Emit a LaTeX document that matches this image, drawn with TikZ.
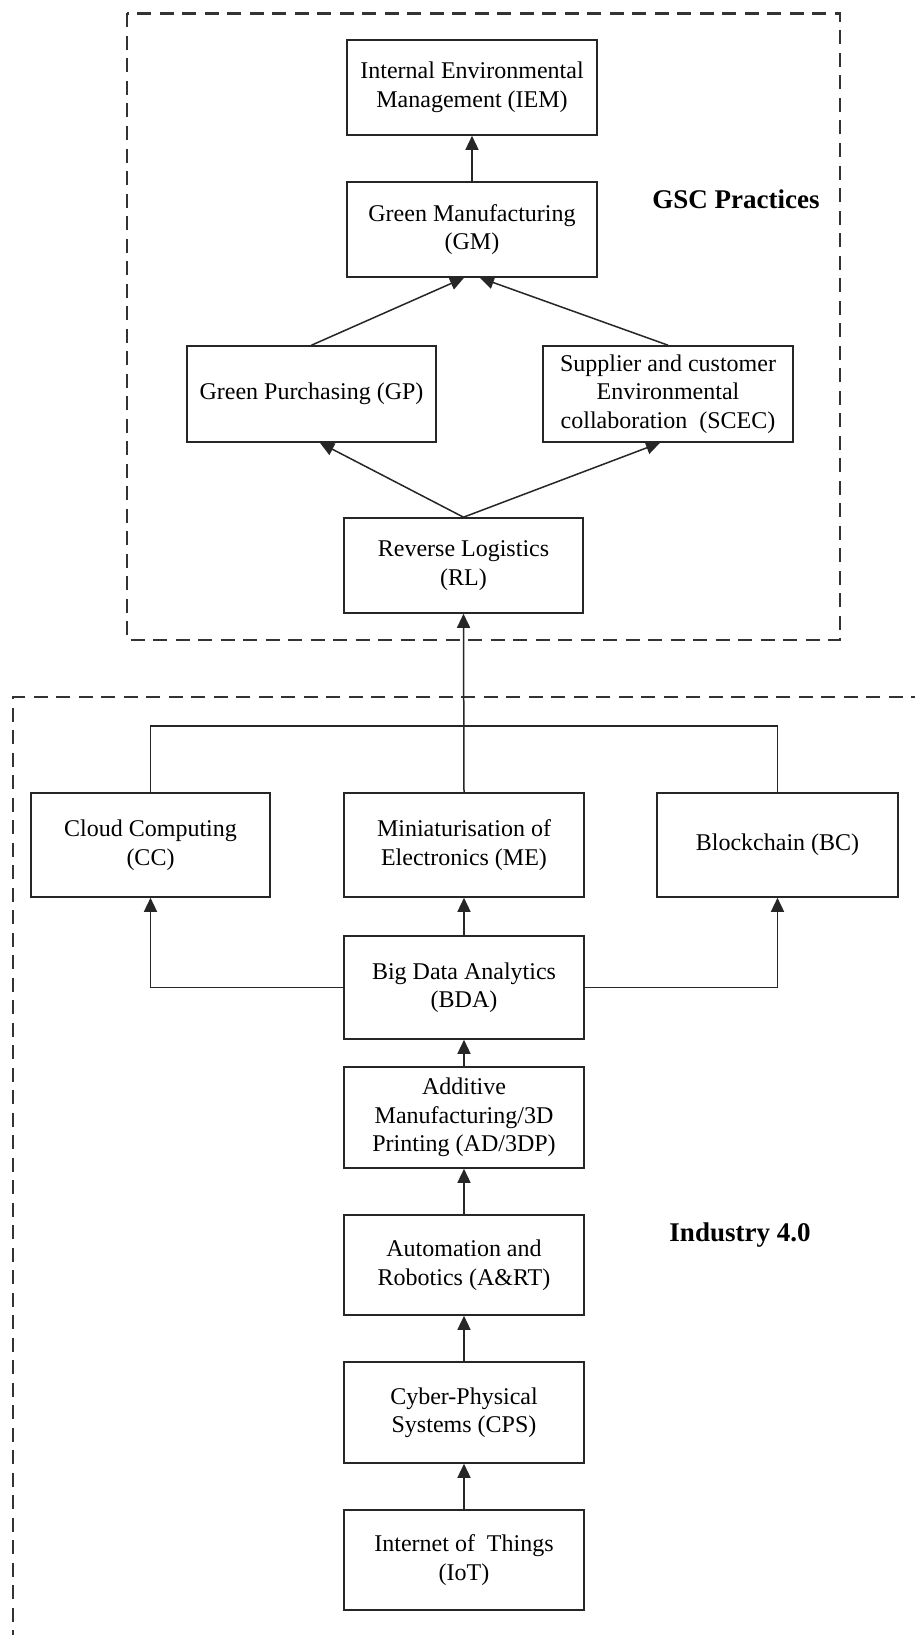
\documentclass[tikz,border=0pt]{standalone}
\usepackage{fontspec}
\setmainfont{Liberation Serif}
\usetikzlibrary{arrows.meta,calc}
\begin{document}
\begin{tikzpicture}[x=1pt,y=-1pt,
  box/.style={draw=black!85, line width=1.6pt, rectangle, inner sep=0pt, align=center,
    font=\fontsize{24}{28.5}\selectfont, text=black},
  link/.style={draw=black!85, line width=1.5pt},
  arr/.style={link, -{Triangle[length=14pt,width=13pt]}},
  frame/.style={draw=black!80, line width=2.8pt, dash pattern=on 14pt off 8.5pt},
  heading/.style={font=\fontsize{27}{30}\selectfont\bfseries, inner sep=0pt}]
\fill[white] (0,0) rectangle (915,1635);
\useasboundingbox (0,0) rectangle (915,1635);

% frames
\draw[frame] (127,13.5) rectangle (840,640);
\draw[frame] (925,697) -- (13,697) -- (13,1645);

% GSC practices
\node[box, minimum width=250pt, minimum height=95pt] (IEM) at (472,87.5) {Internal Environmental\\Management (IEM)};
\node[box, minimum width=250pt, minimum height=95pt] (GM) at (472,229.5) {Green Manufacturing\\(GM)};
\node[box, minimum width=249pt, minimum height=96pt] (GP) at (311.5,394) {Green Purchasing (GP)};
\node[box, minimum width=250pt, minimum height=96pt] (SCEC) at (668,394) {Supplier and customer\\Environmental\\collaboration\ \ (SCEC)};
\node[box, minimum width=239pt, minimum height=95pt] (RL) at (463.5,565.5) {Reverse Logistics\\(RL)};
\node[heading] (GSC) at (736,199) {GSC Practices};

% Industry 4.0
\node[box, minimum width=239pt, minimum height=104pt] (CC) at (150.5,845) {Cloud Computing\\(CC)};
\node[box, minimum width=240pt, minimum height=104pt] (ME) at (464,845) {Miniaturisation of\\Electronics (ME)};
\node[box, minimum width=241pt, minimum height=104pt] (BC) at (777.5,845) {Blockchain (BC)};
\node[box, minimum width=240pt, minimum height=103pt] (BDA) at (464,987.5) {Big Data Analytics\\(BDA)};
\node[box, minimum width=240pt, minimum height=101pt] (AD) at (464,1117.5) {Additive\\Manufacturing/3D\\Printing (AD/3DP)};
\node[box, minimum width=240pt, minimum height=100pt] (ART) at (464,1265) {Automation and\\Robotics (A\&RT)};
\node[box, minimum width=240pt, minimum height=101pt] (CPS) at (464,1412.5) {Cyber-Physical\\Systems (CPS)};
\node[box, minimum width=240pt, minimum height=100pt] (IoT) at (464,1560) {Internet of\ \ Things\\(IoT)};
\node[heading] (I40) at (740,1235) {Industry 4.0};

% connectors (GSC)
\draw[arr] (GM.north) -- (IEM.south);
\draw[arr] (GP.north) -- ($(GM.south)+(-8,0)$);
\draw[arr] (SCEC.north) -- ($(GM.south)+(8,0)$);
\draw[arr] (RL.north) -- ($(GP.south)+(8.5,0)$);
\draw[arr] (RL.north) -- ($(SCEC.south)+(-8,0)$);

% connectors (Industry 4.0)
\coordinate (bus) at (464,726);
\draw[link] (CC.north) |- (bus) -| (BC.north);
\draw[arr] (ME.north) -- (RL.south);
\draw[arr] (BDA.west) -| (CC.south);
\draw[arr] (BDA.east) -| (BC.south);
\draw[arr] (BDA.north) -- (ME.south);
\draw[arr] (AD.north) -- (BDA.south);
\draw[arr] (ART.north) -- (AD.south);
\draw[arr] (CPS.north) -- (ART.south);
\draw[arr] (IoT.north) -- (CPS.south);
\end{tikzpicture}
\end{document}
